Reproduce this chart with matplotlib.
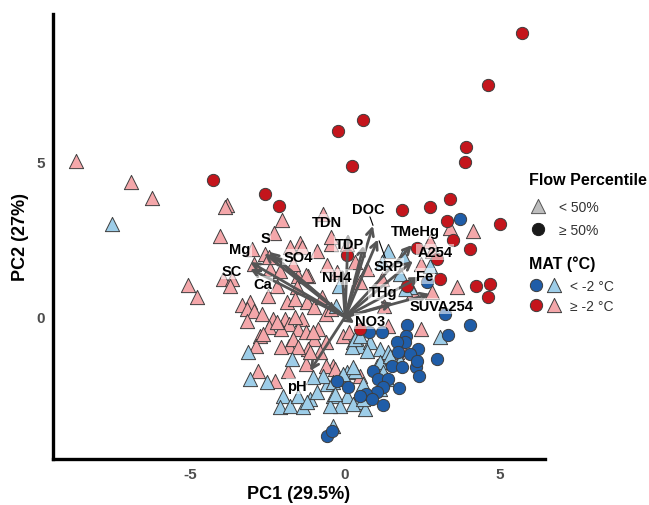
import matplotlib
matplotlib.use("Agg")
import matplotlib.pyplot as plt
import numpy as np

plt.rcParams['font.family'] = ['Liberation Sans', 'DejaVu Sans']
plt.rcParams['axes.unicode_minus'] = False

# PCA scores, split by MAT group and flow percentile
warm_high = [(5.71, 9.16), (4.61, 7.48), (0.58, 6.35), (-0.23, 6.0), (0.23, 4.87), (3.90, 5.48),
             (3.87, 5.0), (-4.26, 4.42), (-2.58, 3.97), (-2.13, 3.58), (3.39, 3.81), (2.74, 3.55),
             (1.84, 3.45), (3.29, 3.10), (5.0, 3.0), (3.48, 2.48), (4.03, 2.19), (2.32, 2.23),
             (2.97, 1.87), (3.06, 1.23), (4.23, 1.0), (4.68, 1.06), (4.61, 0.65), (0.06, 2.0),
             (0.48, -0.39), (2.0, 1.0)]

cold_high = [(3.71, 3.16), (3.23, 0.10), (2.65, 1.13), (2.0, -0.26), (0.77, -0.48), (1.19, -0.48),
             (1.97, -0.61), (1.94, -0.81), (2.35, -1.03), (2.10, -1.19), (1.68, -0.81), (4.03, -0.26),
             (3.32, -0.58), (2.97, -1.35), (1.52, -1.58), (1.84, -1.61), (2.29, -1.61), (2.39, -1.90),
             (0.90, -1.74), (1.06, -2.0), (1.39, -2.0), (1.74, -2.29), (1.23, -2.26), (1.03, -2.42),
             (0.68, -2.48), (0.87, -2.65), (1.23, -2.84), (-0.26, -2.06), (0.10, -2.26), (0.48, -2.55),
             (-0.58, -3.84), (-0.42, -3.68), (1.71, -1.13), (2.32, -1.42)]

warm_low = [(-8.68, 5.03), (-6.90, 4.35), (-6.23, 3.84), (-3.81, 3.61), (-3.87, 3.55), (-2.03, 3.13),
            (-4.03, 2.61), (-2.29, 2.71), (-3.0, 2.19), (-2.58, 2.03), (-1.45, 2.39), (-1.39, 2.26),
            (-1.77, 2.26), (-0.90, 2.13), (-0.71, 3.32), (-0.45, 2.35), (-0.58, 1.68), (-5.06, 1.03),
            (-4.77, 0.65), (-3.94, 1.23), (-3.65, 1.23), (-3.71, 1.0), (-2.42, 1.55), (-2.10, 1.48),
            (-1.52, 1.32), (-1.19, 1.32), (-1.55, 0.97), (-2.19, 1.0), (-3.06, 0.48), (-2.48, 0.68),
            (-1.87, 0.48), (-1.23, 0.48), (-1.26, 1.35), (-2.94, 1.71), (-3.32, 0.39), (-3.16, 0.26),
            (-2.94, 0.19), (-3.16, -0.13), (-2.68, 0.10), (-2.32, -0.06), (-1.94, -0.06), (-1.81, -0.23),
            (-1.39, -0.06), (-1.0, 0.32), (-1.61, 0.58), (-0.74, 0.65), (-0.61, 0.10), (-0.45, 0.26),
            (-2.45, -0.32), (-2.06, -0.39), (-1.52, -0.39), (-1.26, -0.48), (-0.87, -0.39), (-2.74, -0.61),
            (-1.81, -0.94), (-1.68, -0.71), (-1.0, -0.71), (-0.61, -0.81), (-0.06, -0.61), (-2.06, -0.97),
            (-1.19, -1.03), (-2.87, -0.94), (-0.81, -1.13), (-0.39, -1.58), (-0.61, -1.58), (-1.26, -1.52),
            (-1.84, -1.74), (-2.81, -1.74), (-2.26, -2.06), (0.48, -1.90), (0.13, -0.48), (1.39, -0.29),
            (2.45, -0.39), (1.68, -1.13), (1.84, -1.03), (1.39, -1.29), (-0.32, -1.68), (2.81, 2.13),
            (2.74, 2.45), (3.39, 2.87), (4.13, 2.77), (3.61, 0.97), (2.81, 0.81), (2.45, 1.71),
            (2.19, 0.81), (1.26, 0.35), (0.48, 1.13), (0.32, 1.77), (0.06, 2.35), (-0.45, 2.58),
            (-1.68, 1.71), (-2.45, 1.94), (-2.65, -0.55), (-2.19, -0.16), (-1.61, 0.0), (-1.03, -0.48),
            (-1.52, -0.97), (-1.13, -1.13), (-0.26, 1.45), (0.71, 1.55), (1.19, 1.23)]

cold_low = [(-7.52, 3.0), (1.39, 2.13), (1.87, 1.97), (2.74, 1.65), (1.19, 1.77), (1.77, 1.39),
            (2.10, 0.97), (-0.19, 1.0), (3.06, -0.65), (-3.13, -1.13), (-3.06, -2.0), (-2.52, -2.10),
            (-1.71, -1.35), (-2.0, -2.55), (-2.10, -2.90), (-1.77, -2.87), (-1.35, -2.90), (-1.52, -2.55),
            (-1.13, -2.65), (-0.90, -2.42), (-0.58, -2.16), (-0.71, -1.90), (-1.03, -1.94), (-1.23, -2.74),
            (-0.39, -2.10), (-0.16, -2.0), (0.06, -1.77), (0.32, -1.74), (-0.39, -2.55), (0.06, -2.55),
            (0.39, -2.74), (-0.16, -2.87), (-0.48, -2.87), (0.26, -0.81), (0.48, -0.94), (0.81, -0.81),
            (1.13, -1.03), (1.39, -1.13), (1.03, -1.58), (1.35, -2.0), (1.13, -2.32), (0.23, -0.97),
            (0.71, -1.10), (0.32, -0.71), (0.48, -0.61), (1.13, -1.45), (1.77, -1.42), (1.45, -1.26),
            (-0.06, -1.84), (0.58, -2.16), (-0.32, -2.48), (0.26, -2.81), (0.65, -2.97), (0.58, -2.65),
            (1.23, -1.77), (-0.39, -3.52), (1.94, 0.90), (-0.29, 0.35), (0.26, -1.61)]

# variable loadings (arrow tips)
variables = ['DOC', 'TDN', 'TDP', 'SRP', 'TMeHg', 'A254', 'Fe', 'THg', 'SUVA254',
             'NO3', 'pH', 'NH4', 'Mg', 'S', 'SO4', 'SC', 'Ca']
load_x = [0.90, 0.10, 0.60, 1.06, 2.16, 2.19, 2.42, 1.55, 2.74,
          0.30, -1.13, -0.10, -2.60, -2.45, -2.35, -3.06, -3.06]
load_y = [2.94, 2.68, 2.30, 2.50, 2.32, 1.81, 1.29, 0.45, 0.74,
          -0.20, -1.74, 1.55, 2.05, 2.10, 1.98, 1.77, 1.55]

# where the variable names sit
label_pos = {'DOC': (0.74, 3.48), 'TDN': (-0.58, 3.06), 'TDP': (0.16, 2.35), 'SRP': (1.39, 1.65),
             'TMeHg': (2.26, 2.77), 'A254': (2.90, 2.10), 'Fe': (2.58, 1.32), 'THg': (1.23, 0.81),
             'SUVA254': (3.13, 0.35), 'NO3': (0.81, -0.13), 'pH': (-1.55, -2.23), 'NH4': (-0.26, 1.29),
             'Mg': (-3.39, 2.19), 'S': (-2.58, 2.55), 'SO4': (-1.52, 1.94), 'SC': (-3.65, 1.48),
             'Ca': (-2.65, 1.06)}

pink = '#F4A7AA'
lblue = '#9DCDE8'
dblue = '#1F5DA8'
red = '#C4151C'
edge = '#3d3d3d'

fig = plt.figure(figsize=(6.49, 5.06), dpi=100)
ax = fig.add_axes([53 / 649, 46 / 506, 492 / 649, 445 / 506])

tri = dict(marker='^', s=105, edgecolors=edge, linewidths=0.7, zorder=2)
circ = dict(marker='o', s=78, edgecolors=edge, linewidths=0.7, zorder=2)
wl = np.array(warm_low).T
cl = np.array(cold_low).T
ch = np.array(cold_high).T
wh = np.array(warm_high).T
ax.scatter(wl[0], wl[1], c=pink, **tri)
ax.scatter(cl[0], cl[1], c=lblue, **tri)
ax.scatter(ch[0], ch[1], c=dblue, **circ)
ax.scatter(wh[0], wh[1], c=red, **circ)

for name, lx, ly in zip(variables, load_x, load_y):
    ax.annotate('', xy=(lx, ly), xytext=(0, 0), zorder=3,
                arrowprops=dict(arrowstyle='->', color='#555555', lw=2.0,
                                mutation_scale=13, shrinkA=0, shrinkB=0))
for name, (tx, ty) in label_pos.items():
    ax.text(tx, ty, name, ha='center', va='center', fontsize=10.5, fontweight='bold',
            color='black', zorder=5,
            bbox=dict(boxstyle='square,pad=0.08', fc='white', ec='none', alpha=0.55))

# leader lines for the repelled labels
ax.plot([0.80, 0.90], [3.24, 2.96], color='black', lw=0.8, zorder=4)
ax.plot([1.30, 1.10], [1.90, 2.45], color='black', lw=0.8, zorder=4)

ax.set_xlim(-9.42, 6.45)
ax.set_ylim(-4.58, 9.77)
ax.set_xticks([-5, 0, 5])
ax.set_yticks([0, 5])
ax.tick_params(length=0, labelsize=11, labelcolor='#4D4D4D', pad=6)
for lab in ax.get_xticklabels() + ax.get_yticklabels():
    lab.set_fontweight('bold')
for side in ['top', 'right']:
    ax.spines[side].set_visible(False)
for side in ['left', 'bottom']:
    ax.spines[side].set_linewidth(2.4)
ax.set_xlabel('PC1 (29.5%)', fontsize=13, fontweight='bold', labelpad=3)
ax.set_ylabel('PC2 (27%)', fontsize=13, fontweight='bold', labelpad=5)

# legend panel drawn in pixel units
leg = fig.add_axes([0, 0, 1, 1], zorder=10)
leg.set_xlim(0, 649)
leg.set_ylim(506, 0)
leg.axis('off')
leg.patch.set_alpha(0)
leg.text(529, 180, 'Flow Percentile', fontsize=11.5, fontweight='bold', va='center')
leg.scatter([538], [207], marker='^', s=105, c='#BDBDBD', edgecolors='#555555', linewidths=0.7)
leg.text(559, 208, '< 50%', fontsize=10, color='#333333', va='center')
leg.scatter([538], [230], marker='o', s=78, c='#1a1a1a', edgecolors='#1a1a1a', linewidths=0.7)
leg.text(559, 231, '\u2265 50%', fontsize=10, color='#333333', va='center')
leg.text(529, 264, 'MAT (\u00b0C)', fontsize=11.5, fontweight='bold', va='center')
leg.scatter([536], [286], marker='o', s=78, c=dblue, edgecolors=edge, linewidths=0.7)
leg.scatter([554], [286], marker='^', s=105, c=lblue, edgecolors=edge, linewidths=0.7)
leg.text(570, 287, '< -2 \u00b0C', fontsize=10, color='#333333', va='center')
leg.scatter([536], [306], marker='o', s=78, c=red, edgecolors=edge, linewidths=0.7)
leg.scatter([554], [306], marker='^', s=105, c=pink, edgecolors=edge, linewidths=0.7)
leg.text(570, 307, '\u2265 -2 \u00b0C', fontsize=10, color='#333333', va='center')

fig.savefig('out.png', dpi=100)
